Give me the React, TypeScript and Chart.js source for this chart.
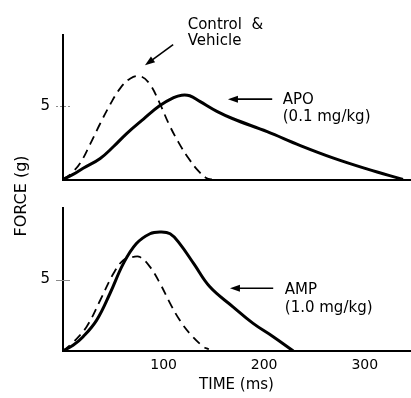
import React, { useEffect, useRef } from 'react';
import { Chart, registerables } from 'chart.js';

Chart.register(...registerables);

// ---- data (time in ms, force in g) ----
const topControlTime = [0, 8, 17, 27, 37, 47, 57, 67, 77, 86, 96, 105, 115, 125, 135, 143, 148];
const topControlForce = [0, 0.4, 1.1, 2.4, 3.8, 5.1, 6.2, 6.85, 7.0, 6.5, 5.2, 3.8, 2.5, 1.42, 0.55, 0.08, 0];

const topApoTime = [0, 10, 20, 37, 50, 63, 80, 96, 110, 118, 126, 136, 153, 169, 203, 236, 269, 302, 338];
const topApoForce = [0, 0.35, 0.76, 1.43, 2.22, 3.1, 4.1, 5.0, 5.55, 5.72, 5.68, 5.3, 4.62, 4.12, 3.24, 2.3, 1.45, 0.72, 0];

const bottomControlTime = [0, 10, 23.5, 37, 50, 60, 70, 76.5, 86.5, 96.5, 106.5, 116, 126, 139.5, 145];
const bottomControlForce = [0, 0.6, 1.7, 3.55, 5.4, 6.35, 6.58, 6.58, 5.88, 4.72, 3.33, 2.16, 1.23, 0.3, 0.12];

const bottomAmpTime = [0, 10, 20, 33.5, 46.7, 60, 73, 86.5, 96.5, 106.5, 116, 130, 146, 169, 189, 209, 229];
const bottomAmpForce = [0, 0.4, 1.0, 2.16, 4.02, 6.11, 7.51, 8.2, 8.32, 8.2, 7.51, 6.11, 4.49, 3.09, 1.93, 1.0, 0];

const timeTicks = [100, 200, 300];
const forceTicks = [5];

const FONT = '"DejaVu Sans", "Liberation Sans", sans-serif';

const pts = (xs: number[], ys: number[]) => xs.map((x, i) => ({ x, y: ys[i] }));

const notesPlugin = {
  id: 'notes',
  afterDraw(chart: any, _args: any, opts: any) {
    const { ctx } = chart;
    const xs = chart.scales.x;
    const ys = chart.scales.y;
    ctx.save();
    // y tick marks crossing the axis
    ctx.strokeStyle = '#8a8a8a';
    ctx.lineWidth = 1;
    ctx.setLineDash(opts.tickDash || []);
    for (const v of forceTicks) {
      const py = Math.round(ys.getPixelForValue(v)) + 0.5;
      ctx.beginPath();
      ctx.moveTo(xs.left - 7, py);
      ctx.lineTo(xs.left + 7, py);
      ctx.stroke();
    }
    ctx.setLineDash([]);
    ctx.fillStyle = '#000';
    ctx.strokeStyle = '#000';
    ctx.font = `15px ${FONT}`;
    ctx.textAlign = 'left';
    ctx.textBaseline = 'alphabetic';
    for (const t of opts.texts || []) {
      ctx.fillText(t.text, xs.getPixelForValue(t.x), ys.getPixelForValue(t.y));
    }
    for (const a of opts.arrows || []) {
      const x1 = xs.getPixelForValue(a.x1);
      const y1 = ys.getPixelForValue(a.y1);
      const x2 = xs.getPixelForValue(a.x2);
      const y2 = ys.getPixelForValue(a.y2);
      const ang = Math.atan2(y2 - y1, x2 - x1);
      const L = 10;
      const W = 3.5;
      ctx.lineWidth = 1.6;
      ctx.beginPath();
      ctx.moveTo(x1, y1);
      ctx.lineTo(x2 - Math.cos(ang) * 4, y2 - Math.sin(ang) * 4);
      ctx.stroke();
      ctx.beginPath();
      ctx.moveTo(x2, y2);
      ctx.lineTo(x2 - L * Math.cos(ang) + W * Math.sin(ang), y2 - L * Math.sin(ang) - W * Math.cos(ang));
      ctx.lineTo(x2 - L * Math.cos(ang) - W * Math.sin(ang), y2 - L * Math.sin(ang) + W * Math.cos(ang));
      ctx.closePath();
      ctx.fill();
    }
    if (opts.sideTitle) {
      ctx.translate(opts.sideTitle.px, opts.sideTitle.py);
      ctx.rotate(-Math.PI / 2);
      ctx.font = `16px ${FONT}`;
      ctx.textAlign = 'center';
      ctx.textBaseline = 'middle';
      ctx.fillText(opts.sideTitle.text, 0, 0);
    }
    ctx.restore();
  },
};

function makeConfig(panel: 'top' | 'bottom'): any {
  const isTop = panel === 'top';
  const solid = isTop ? pts(topApoTime, topApoForce) : pts(bottomAmpTime, bottomAmpForce);
  const dashed = isTop ? pts(topControlTime, topControlForce) : pts(bottomControlTime, bottomControlForce);
  const axisBorder = { display: true, color: '#000', width: 2 };
  return {
    type: 'line',
    data: {
      datasets: [
        {
          data: solid,
          borderColor: '#000',
          borderWidth: 3,
          pointRadius: 0,
          fill: false,
          tension: 0.4,
          borderJoinStyle: 'round',
        },
        {
          data: dashed,
          borderColor: '#000',
          borderWidth: 1.8,
          borderDash: [9, 6],
          pointRadius: 0,
          fill: false,
          tension: 0.4,
        },
      ],
    },
    options: {
      animation: false,
      responsive: false,
      events: [],
      layout: { padding: { top: isTop ? 35 : 208, left: 0, right: 1, bottom: 0 } },
      plugins: {
        legend: { display: false },
        tooltip: { enabled: false },
        notes: isTop
          ? {
              tickDash: [2, 2],
              texts: [
                { text: 'Control  &', x: 124, y: 10.2 },
                { text: 'Vehicle', x: 124, y: 9.1 },
                { text: 'APO', x: 218.5, y: 5.1 },
                { text: '(0.1 mg/kg)', x: 218.5, y: 4.0 },
              ],
              arrows: [
                { x1: 109.5, y1: 9.15, x2: 81.5, y2: 7.75 },
                { x1: 208, y1: 5.45, x2: 164, y2: 5.45 },
              ],
            }
          : {
              tickDash: [],
              texts: [
                { text: 'AMP', x: 220.5, y: 3.97 },
                { text: '(1.0 mg/kg)', x: 220.5, y: 2.72 },
              ],
              arrows: [{ x1: 209, y1: 4.39, x2: 166, y2: 4.39 }],
              sideTitle: { text: 'FORCE (g)', px: 22, py: 196 },
            },
      },
      scales: {
        x: {
          type: 'linear',
          min: 0,
          max: 345,
          border: axisBorder,
          grid: { display: false, drawTicks: false },
          ticks: {
            display: !isTop,
            color: '#000',
            font: { family: FONT, size: 14 },
            padding: 6,
            maxRotation: 0,
          },
          afterBuildTicks: (s: any) => {
            s.ticks = timeTicks.map((v) => ({ value: v }));
          },
          title: {
            display: !isTop,
            text: 'TIME (ms)',
            color: '#000',
            font: { family: FONT, size: 15 },
            padding: { top: 0, bottom: 4 },
          },
          afterFit: (s: any) => {
            s.height = isTop ? 398 - 179.5 : 398 - 351;
          },
        },
        y: {
          type: 'linear',
          min: 0,
          max: isTop ? 9.8 : 10,
          border: axisBorder,
          grid: { display: false, drawTicks: false },
          ticks: {
            color: '#000',
            font: { family: FONT, size: 15 },
            padding: 13,
          },
          afterBuildTicks: (s: any) => {
            s.ticks = forceTicks.map((v) => ({ value: v }));
          },
          afterFit: (s: any) => {
            s.width = 63;
          },
        },
      },
    },
    plugins: [notesPlugin],
  };
}

export default function App() {
  const topRef = useRef<HTMLCanvasElement>(null);
  const bottomRef = useRef<HTMLCanvasElement>(null);

  useEffect(() => {
    const charts: Chart[] = [];
    if (topRef.current) charts.push(new Chart(topRef.current, makeConfig('top')));
    if (bottomRef.current) charts.push(new Chart(bottomRef.current, makeConfig('bottom')));
    return () => charts.forEach((c) => c.destroy());
  }, []);

  const canvasStyle: React.CSSProperties = {
    position: 'absolute',
    left: 0,
    top: 0,
    width: 411,
    height: 398,
    display: 'block',
  };

  return (
    <div style={{ position: 'fixed', left: 0, top: 0, width: 411, height: 398, background: '#fff' }}>
      <canvas ref={topRef} width={411} height={398} style={canvasStyle} />
      <canvas ref={bottomRef} width={411} height={398} style={canvasStyle} />
    </div>
  );
}
